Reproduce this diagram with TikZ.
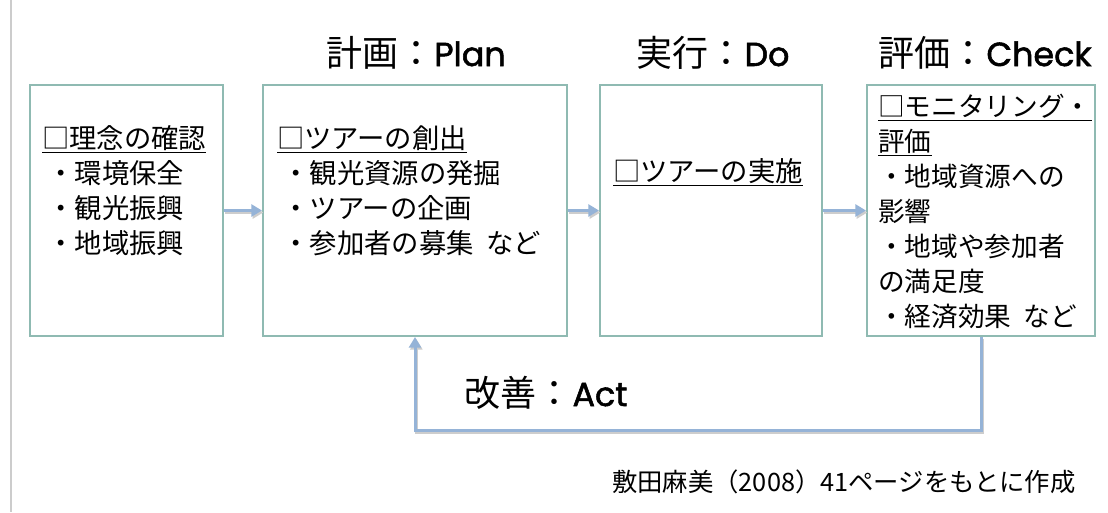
\documentclass[tikz,border=0pt]{standalone}
\usepackage{fontspec}
\setmainfont{Noto Sans CJK JP}
\newfontfamily\latinb{Poppins}[BoldFont={Poppins}, BoldFeatures={FakeBold=1.6}]
\usetikzlibrary{arrows.meta,fit}
\definecolor{boxc}{RGB}{143,186,178}
\definecolor{arrc}{RGB}{149,179,215}
\definecolor{shc}{RGB}{205,205,205}
\definecolor{edgec}{RGB}{204,204,204}
\begin{document}
\begin{tikzpicture}[x=0.75pt,y=-0.75pt,
  box/.style={draw=boxc, line width=1.5pt, inner sep=0pt},
  txt/.style={anchor=north west, inner sep=0pt, align=left, font=\fontsize{20.5}{26.25}\selectfont},
  txtb/.style={anchor=north west, inner sep=0pt, align=left, font=\fontsize{20}{26.25}\selectfont},
  ttl/.style={anchor=base, inner sep=0pt, font=\fontsize{27}{30}\selectfont},
  arr/.style={draw=arrc, line width=2.25pt, -{Triangle[length=8pt,width=9pt]}},
  shd/.style={draw=shc, line width=2.25pt, transform canvas={shift={(1pt,-1.5pt)}}, -{Triangle[length=8pt,width=9pt]}}]
\useasboundingbox (0,0) rectangle (1108,512);
\fill[white] (0,0) rectangle (1108,512);
\draw[edgec, line width=1.5pt] (11,0) -- (11,512);
% boxes
\node[box, fit={(30,85) (223,336)}] (b1) {};
\node[box, fit={(263,85) (567,336)}] (b2) {};
\node[box, fit={(600,85) (822,336)}] (b3) {};
\node[box, fit={(867,85) (1095,336)}] (b4) {};
% box texts
\node[txt] (x1) at (42,125) {\underline{□理念の確認}\\
\hspace*{4pt}・環境保全\\
\hspace*{4pt}・観光振興\\
\hspace*{4pt}・地域振興};
\node[txt] (x2) at (277,125) {\underline{□ツアーの創出}\\
\hspace*{4pt}・観光資源の発掘\\
\hspace*{4pt}・ツアーの企画\\
\hspace*{4pt}・参加者の募集\ \ など};
\node[txt] (x3) at (613,158) {\underline{□ツアーの実施}};
\node[txtb] (x4) at (878,94) {\underline{□モニタリング・}\\
\underline{評価}\\
・地域資源への\\
影響\\
・地域や参加者\\
の満足度\\
・経済効果\ \ など};
% titles
\node[ttl] (t1) at (416,66) {計画：{\latinb\bfseries\fontsize{25}{30}\selectfont Plan}};
\node[ttl] (t2) at (713,66) {実行：{\latinb\bfseries\fontsize{25}{30}\selectfont Do}};
\node[ttl] (t3) at (985,66) {評価：{\latinb\bfseries\fontsize{25}{30}\selectfont Check}};
\node[ttl] (t4) at (546,406) {改善：{\latinb\bfseries\fontsize{25}{30}\selectfont Act}};
\node[anchor=base west, inner sep=0pt, font=\fontsize{19}{20}\selectfont] (src) at (612,491) {敷田麻美（2008）41ページをもとに作成};
% arrows
\coordinate (fb) at (546,430);
\draw[shd] (b1.east) -- (b2.west);
\draw[shd] (b2.east) -- (b3.west);
\draw[shd] (b3.east) -- (b4.west);
\draw[shd] (b4.south) |- (fb) -| (b2.south);
\draw[arr] (b1.east) -- (b2.west);
\draw[arr] (b2.east) -- (b3.west);
\draw[arr] (b3.east) -- (b4.west);
\draw[arr] (b4.south) |- (fb) -| (b2.south);
\end{tikzpicture}
\end{document}
